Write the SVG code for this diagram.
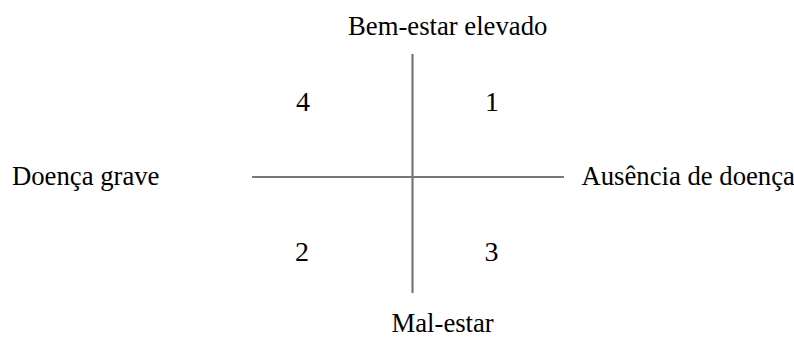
<svg xmlns="http://www.w3.org/2000/svg" width="794" height="338" viewBox="0 0 794 338">
<style>
text{font-family:"Liberation Serif","Times New Roman",serif;font-size:26.7px;fill:#000}
.num{font-size:28px}
.ax{stroke:#777;stroke-width:2.2;fill:none}
</style>
<rect width="794" height="338" fill="#fff"/>
<g id="connectors">
<line class="ax" x1="412.5" y1="54" x2="412.5" y2="293"/>
<line class="ax" x1="252" y1="177" x2="564" y2="177"/>
</g>
<g id="top"><text x="348" y="35">Bem-estar elevado</text></g>
<g id="left"><text x="12" y="185">Doença grave</text></g>
<g id="right"><text x="581.5" y="185">Ausência de doença</text></g>
<g id="bottom"><text x="391.5" y="332">Mal-estar</text></g>
<g id="q4"><text class="num" x="303" y="111" text-anchor="middle">4</text></g>
<g id="q1"><text class="num" x="492" y="111" text-anchor="middle">1</text></g>
<g id="q2"><text class="num" x="302" y="261" text-anchor="middle">2</text></g>
<g id="q3"><text class="num" x="491.5" y="261" text-anchor="middle">3</text></g>
</svg>
